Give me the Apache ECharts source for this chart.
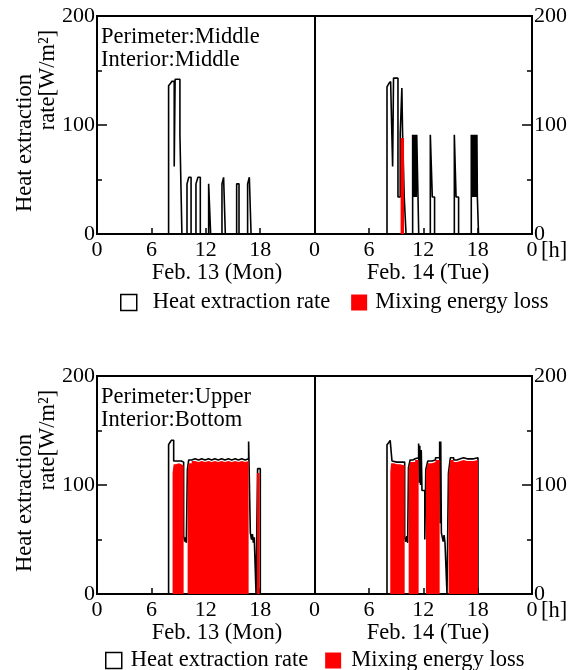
<!DOCTYPE html>
<html><head><meta charset="utf-8">
<script src="https://cdn.jsdelivr.net/npm/echarts@6/dist/echarts.min.js"></script>
<style>html,body{margin:0;padding:0;background:#fff}#c{width:575px;height:670px}</style>
</head><body><div id="c"></div>
<script>
const FONT = "'Liberation Serif','Times New Roman',serif";
const xTickLabels = ['0','6','12','18','0','6','12','18','0'];
const dayLabels = ['Feb. 13 (Mon)', 'Feb. 14 (Tue)'];
const panelNotes = [['Perimeter:Middle', 'Interior:Middle'], ['Perimeter:Upper', 'Interior:Bottom']];
const seriesNames = ['Heat extraction rate', 'Mixing energy loss'];
const yTitle = ['Heat extraction', 'rate[W/m\u00B2]'];

// [hour, value] step points (value holds until the next point)
const topHeat = [
  [0,0],[7.9,136],[8.1,138],[8.25,140],[8.52,62],[8.62,142],[9.15,91],[9.37,0],
  [9.93,46],[10.13,52],[10.38,0],
  [10.92,46],[11.14,52],[11.4,0],
  [12.32,46],[12.54,0],
  [13.79,46],[13.97,52],[14.16,0],
  [15.41,46],[15.67,0],
  [16.62,46],[16.81,52],[17.0,0],
  [32.0,135],[32.2,138],[32.4,140],[32.62,62],[32.72,143],[33.21,34],[33.46,92],[33.64,134],[33.72,92],[33.9,34],[34.1,0],
  [34.83,91],[34.92,34],[34.98,91],[35.07,34],[35.13,91],[35.22,34],[35.28,91],[35.42,34],[35.5,0],
  [36.78,91],[37.0,34],[37.25,0],
  [39.43,91],[39.62,34],[39.9,0],
  [41.3,91],[41.4,34],[41.46,91],[41.56,34],[41.62,91],[41.72,34],[41.78,91],[41.88,34],[41.92,91],[41.97,34],[42.1,0],
  [48,0]
];
const topMix = [[0,0],[33.5,88],[33.88,0],[48,0]];

const bottomHeat = [
  [0,0],[7.9,137],[8.05,139],[8.2,141],[8.46,122],[8.72,122],[9.05,122],[9.3,121],[9.56,53],[9.68,48],[9.78,52],[9.86,47],
  [9.97,114],[10.12,123],[10.45,124],[10.82,123],[11.2,124],[11.55,123],[11.92,124],[12.3,123],[12.65,124],[13.0,123],
  [13.38,124],[13.75,123],[14.12,124],[14.5,123],[14.87,124],[15.25,123],[15.6,124],[15.98,123],[16.35,124],
  [16.73,140],[16.92,56],[17.05,50],[17.15,55],[17.25,47],[17.35,52],[17.55,0],[17.72,115],[18.02,0],
  [32.0,137],[32.2,139],[32.35,141],[32.55,122],[32.75,121],[33.1,121],[33.45,121],[33.95,52],[34.08,48],[34.18,53],[34.28,47],
  [34.37,116],[34.55,123],[34.85,124],[35.1,125],[35.49,138],[35.55,102],[35.62,136],[35.7,100],[35.78,132],[35.86,95],[36.17,50],
  [36.28,114],[36.5,122],[36.95,123],[37.35,125],[37.81,140],[37.87,65],[37.93,140],[38.0,56],[38.2,48],[38.3,54],[38.4,47],[38.62,0],
  [38.78,111],[38.99,125],[39.36,123],[39.72,124],[40.09,125],[40.46,124],[40.83,124],[41.19,124],[41.56,125],[42.04,0],
  [48,0]
];
const bottomMix = [
  [0,0],[8.34,111],[8.45,119],[8.72,120],[9.05,119],[9.3,118],[9.56,0],
  [10.0,112],[10.12,120],[10.45,122],[10.82,121],[11.2,122],[11.55,121],[11.92,122],[12.3,121],[12.65,122],[13.0,121],
  [13.38,122],[13.75,121],[14.12,122],[14.5,121],[14.87,122],[15.25,121],[15.6,122],[15.98,121],[16.35,122],[16.73,0],
  [17.65,111],[17.94,0],
  [32.36,112],[32.45,120],[32.75,119],[33.1,119],[33.45,118],[33.95,0],
  [34.39,114],[34.55,121],[34.85,121],[35.1,123],[35.49,0],
  [36.3,112],[36.5,120],[36.95,121],[37.35,123],[37.81,0],
  [38.8,109],[38.99,123],[39.36,121],[39.72,122],[40.09,123],[40.46,122],[40.83,122],[41.19,122],[41.56,123],[42.04,0],
  [48,0]
];

const panels = [
  {heat: topHeat, mix: topMix, top: 16},
  {heat: bottomHeat, mix: bottomMix, top: 376}
];
const H = 218;

const grids = [], xAxes = [], yAxes = [], series = [], legends = [], graphics = [];
const txt = (extra) => Object.assign({fontFamily: FONT, fontSize: 22.5, fill: '#000'}, extra);

panels.forEach((p, i) => {
  grids.push({left: 97, right: 43, top: p.top, height: H, show: true, borderColor: '#000', borderWidth: 2, backgroundColor: 'transparent'});
  xAxes.push({
    type: 'value', gridIndex: i, min: 0, max: 48, interval: 6,
    axisLine: {lineStyle: {color: '#000', width: 2}},
    axisTick: {inside: true, length: 6, lineStyle: {color: '#000', width: 1.5}},
    axisLabel: {color: '#000', fontFamily: FONT, fontSize: 22, margin: 5, formatter: v => xTickLabels[Math.round(v / 6)]},
    splitLine: {show: false}
  });
  ['left', 'right'].forEach(pos => {
    yAxes.push({
      type: 'value', gridIndex: i, position: pos, min: 0, max: 200, interval: 100,
      axisLine: {show: true, onZero: false, lineStyle: {color: '#000', width: 2}},
      axisTick: {inside: true, length: 10, lineStyle: {color: '#000', width: 1.5}},
      minorTick: {show: true, splitNumber: 2, length: 5, lineStyle: {color: '#000', width: 1.5}},
      axisLabel: {color: '#000', fontFamily: FONT, fontSize: 22, margin: 2},
      splitLine: {show: false}
    });
  });
  series.push({
    name: seriesNames[0], type: 'line', xAxisIndex: i, yAxisIndex: i * 2, data: p.heat, step: 'end',
    showSymbol: false, symbol: 'none', z: 2,
    lineStyle: {color: '#000', width: 1.6},
    itemStyle: {color: '#fff', borderColor: '#000'},
    markLine: {silent: true, symbol: ['none', 'none'], label: {show: false},
      lineStyle: {color: '#000', type: 'solid', width: 2}, data: [{xAxis: 24}]}
  });
  series.push({
    name: seriesNames[1], type: 'line', xAxisIndex: i, yAxisIndex: i * 2, data: p.mix, step: 'end',
    showSymbol: false, symbol: 'none', z: 3,
    lineStyle: {color: '#ff0000', width: 0, opacity: 0},
    areaStyle: {color: '#ff0000', opacity: 1},
    itemStyle: {color: '#ff0000'}
  });

  const base = p.top;
  graphics.push({type: 'text', x: 25, y: base + 127, rotation: Math.PI / 2, style: txt({text: yTitle[0], align: 'center', verticalAlign: 'middle'})});
  graphics.push({type: 'text', x: 48, y: base + 64, rotation: Math.PI / 2, style: txt({text: yTitle[1], align: 'center', verticalAlign: 'middle'})});
  graphics.push({type: 'text', x: 101, y: base + 21, style: txt({text: panelNotes[i][0], align: 'left', verticalAlign: 'middle'})});
  graphics.push({type: 'text', x: 101, y: base + 44, style: txt({text: panelNotes[i][1], align: 'left', verticalAlign: 'middle'})});
  graphics.push({type: 'text', x: 217, y: base + 257, style: txt({text: dayLabels[0], align: 'center', verticalAlign: 'middle'})});
  graphics.push({type: 'text', x: 428, y: base + 257, style: txt({text: dayLabels[1], align: 'center', verticalAlign: 'middle'})});
  graphics.push({type: 'text', x: 541, y: base + 235, style: txt({text: '[h]', align: 'left', verticalAlign: 'middle'})});
});

const legendCfg = [
  {top: 291, left: 120, pad1: 11, gap: 21, pad2: 3},
  {top: 649, left: 105, pad1: 4, gap: 17, pad2: 5}
];
legendCfg.forEach(c => {
  legends.push({
    top: c.top, left: c.left, padding: 0, itemWidth: 16, itemHeight: 16, itemGap: c.gap, selectedMode: false,
    textStyle: {color: '#000', fontFamily: FONT, fontSize: 22.5},
    data: [
      {name: seriesNames[0], icon: 'rect', itemStyle: {color: '#fff', borderColor: '#000', borderWidth: 1.5}, textStyle: {padding: [0, 0, 0, c.pad1]}},
      {name: seriesNames[1], icon: 'rect', itemStyle: {color: '#ff0000', borderWidth: 0}, textStyle: {padding: [0, 0, 0, c.pad2]}}
    ]
  });
});

const chart = echarts.init(document.getElementById('c'), null, {renderer: 'canvas'});
chart.setOption({
  animation: false,
  backgroundColor: '#fff',
  grid: grids, xAxis: xAxes, yAxis: yAxes, series: series, legend: legends, graphic: graphics
});
</script></body></html>
